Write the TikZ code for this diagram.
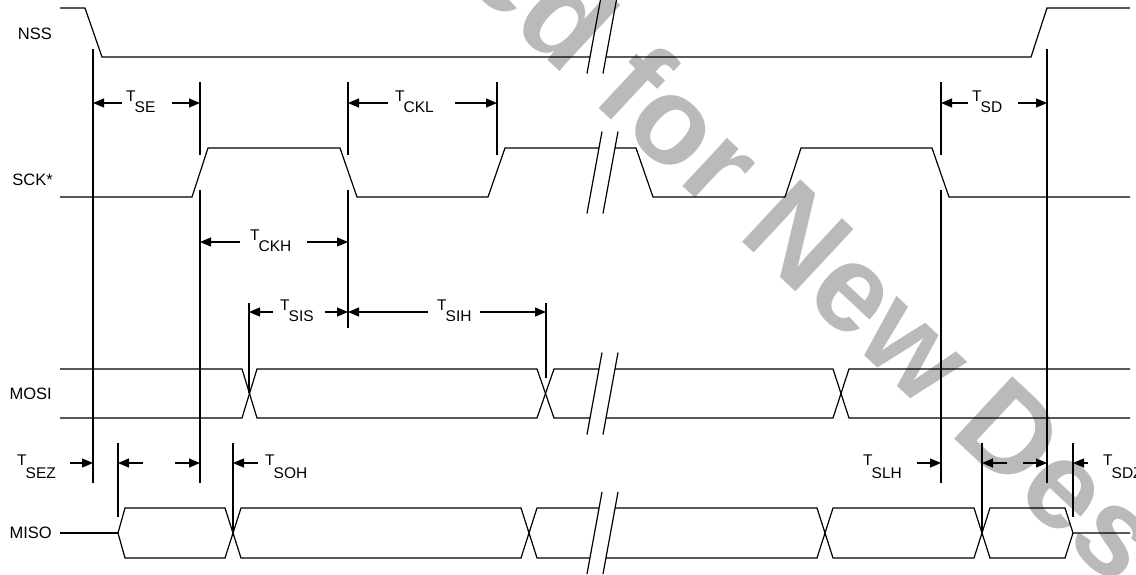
\documentclass[tikz,border=0pt]{standalone}
\usepackage{fontspec}
\setmainfont{Liberation Sans}
\usetikzlibrary{arrows.meta}
\newcommand{\Tsub}[2][11pt]{T\kern-1pt\raisebox{-#1}{#2}}
\begin{document}
\begin{tikzpicture}[x=1pt,y=-1pt,
  sig/.style={line width=1.2pt, line join=miter},
  vline/.style={line width=1.2pt},
  dimarr/.style={-{Triangle[length=11pt,width=9pt]}, line width=1.2pt},
  brk/.style={line width=1.2pt},
  siglbl/.style={anchor=base east, inner sep=0pt, font=\fontsize{16.5}{18}\selectfont},
  tlbl/.style={anchor=base west, inner sep=0pt, font=\fontsize{15.5}{16}\selectfont},
  wm/.style={inner sep=0pt, rotate=-43, text=black!27, font=\fontsize{124}{124}\selectfont\bfseries}]
\useasboundingbox (0,0) rectangle (1136,574);
\fill[white] (0,0) rectangle (1136,574);
% watermark
\begin{scope}
\clip (0,0) rectangle (1136,574);
\node[wm, anchor=base west] (wmA) at (510,25) {d for New Designs};
\node[wm, anchor=base east] (wmB) at (510,25) {Not Recommende};
\end{scope}
% signal labels
\node[siglbl] (lNSS) at (52,39) {NSS};
\node[siglbl] (lSCK) at (53,185) {SCK*};
\node[siglbl] (lMOSI) at (52,399) {MOSI};
\node[siglbl] (lMISO) at (52,538) {MISO};
% NSS
\draw[sig] (60,8) -- (85,8) -- (102,57) -- (590,57);
\draw[sig] (606,57) -- (1031,57) -- (1047,8) -- (1130,8);
% SCK
\draw[sig] (60,197) -- (192,197) -- (208,148) -- (340,148) -- (357,197) -- (488,197) -- (505,148) -- (599,148);
\draw[sig] (615,148) -- (636,148) -- (653,197) -- (785,197) -- (801,148) -- (932,148) -- (949,197) -- (1130,197);
% MOSI
\draw[sig] (60,369) -- (242,369) -- (257,418) -- (537,418) -- (554,369) -- (599,369);
\draw[sig] (60,418) -- (242,418) -- (257,369) -- (537,369) -- (554,418) -- (590,418);
\draw[sig] (615,369) -- (833,369) -- (849,418) -- (1130,418);
\draw[sig] (606,418) -- (833,418) -- (849,369) -- (1130,369);
% MISO
\draw[sig] (60,533) -- (118,533);
\draw[sig] (118,533) -- (125,508) -- (225,508) -- (241,558) -- (521,558) -- (537,508) -- (599,508);
\draw[sig] (118,533) -- (125,558) -- (225,558) -- (241,508) -- (521,508) -- (537,558) -- (590,558);
\draw[sig] (615,508) -- (817,508) -- (833,558) -- (974,558) -- (990,508) -- (1065,508) -- (1073,533) -- (1130,533);
\draw[sig] (606,558) -- (817,558) -- (833,508) -- (974,508) -- (990,558) -- (1065,558) -- (1073,533);
% break marks
\foreach \c in {32.5,172.5,393.5,533}{
  \draw[brk] (587,\c+41) -- (602,\c-41);
  \draw[brk] (603,\c+41) -- (618,\c-41);
}
% vertical timing markers
\draw[vline] (93,49) -- (93,483);
\draw[vline] (200,82) -- (200,155);
\draw[vline] (200,190) -- (200,483);
\draw[vline] (348,82) -- (348,155);
\draw[vline] (348,190) -- (348,328);
\draw[vline] (497,82) -- (497,155);
\draw[vline] (941,82) -- (941,155);
\draw[vline] (941,190) -- (941,483);
\draw[vline] (1047,49) -- (1047,483);
\draw[vline] (249,303) -- (249,393);
\draw[vline] (546,303) -- (546,378);
\draw[vline] (118,443) -- (118,517);
\draw[vline] (233,443) -- (233,530);
\draw[vline] (982,443) -- (982,532);
\draw[vline] (1073,443) -- (1073,517);
% dimension arrows, row 1
\draw[dimarr] (122,103) -- (93,103);
\draw[dimarr] (172,103) -- (200,103);
\node[tlbl] (tSE) at (126,101) {\Tsub{SE}};
\draw[dimarr] (388,103) -- (348,103);
\draw[dimarr] (455,103) -- (497,103);
\node[tlbl] (tCKL) at (395,101) {\Tsub{CKL}};
\draw[dimarr] (968,103) -- (941,103);
\draw[dimarr] (1018,103) -- (1047,103);
\node[tlbl] (tSD) at (972,101) {\Tsub{SD}};
% row 2
\draw[dimarr] (240,242) -- (200,242);
\draw[dimarr] (307,242) -- (348,242);
\node[tlbl] (tCKH) at (250,240) {\Tsub{CKH}};
% row 3
\draw[dimarr] (273,312) -- (249,312);
\draw[dimarr] (325,312) -- (348,312);
\node[tlbl] (tSIS) at (280,310) {\Tsub{SIS}};
\draw[dimarr] (428,312) -- (348,312);
\draw[dimarr] (480,312) -- (546,312);
\node[tlbl] (tSIH) at (437,310) {\Tsub{SIH}};
% row 4
\draw[dimarr] (70,463) -- (93,463);
\node[tlbl] (tSEZ) at (17,465) {\Tsub[13pt]{SEZ}};
\draw[dimarr] (143,463) -- (118,463);
\draw[dimarr] (175,463) -- (200,463);
\draw[dimarr] (258,463) -- (233,463);
\node[tlbl] (tSOH) at (265,465) {\Tsub[13pt]{SOH}};
\draw[dimarr] (917,463) -- (941,463);
\node[tlbl] (tSLH) at (863,465) {\Tsub[13pt]{SLH}};
\draw[dimarr] (1007,463) -- (982,463);
\draw[dimarr] (1023,463) -- (1047,463);
\draw[dimarr] (1088,463) -- (1073,463);
\node[tlbl] (tSDZ) at (1103,465) {\Tsub[13pt]{SDZ}};
\end{tikzpicture}
\end{document}
